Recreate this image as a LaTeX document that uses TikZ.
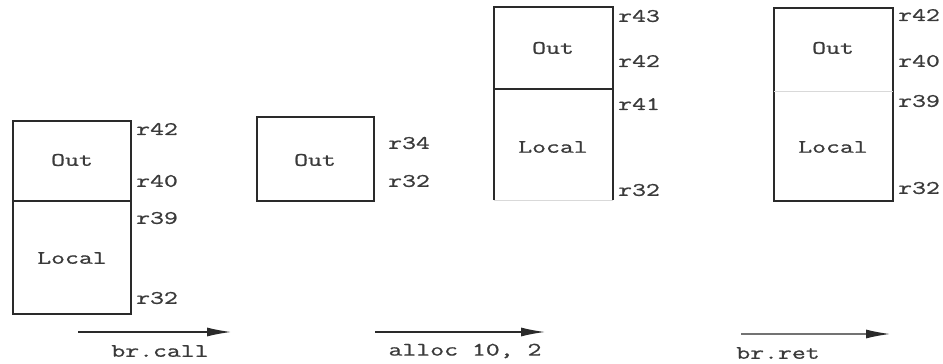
\documentclass[tikz,border=0pt]{standalone}
\usepackage{fontspec}
\newfontfamily\courish{Latin Modern Mono}[FakeBold=0.8]
\usetikzlibrary{arrows.meta}
\definecolor{ln}{HTML}{2A2A2A}
\definecolor{tx}{HTML}{3A3A3A}
\tikzset{
  box/.style={draw=ln, line width=1.6pt},
  faint/.style={draw=black!15, line width=0.8pt},
  lbl/.style={text=tx, font=\courish\fontsize{19}{19}\selectfont, inner sep=0pt},
  reg/.style={lbl, anchor=west},
  arr/.style={draw=ln, line width=1.2pt, -{Latex[length=24pt,width=9pt,color=ln]}},
}
\newcommand{\wideT}[1]{\scalebox{1.42}[1]{#1}}
\begin{document}
\begin{tikzpicture}[x=1pt,y=-1pt]
\useasboundingbox (0,0) rectangle (943,364);
% ---- box 1
\draw[box] (13,121) rectangle (131,314);
\draw[box] (13,201) -- (131,201);
\node[lbl] (o1) at (72,160) {\wideT{Out}};
\node[lbl] (l1) at (72,258) {\wideT{Local}};
\node[reg] (a1) at (136,129) {\wideT{r42}};
\node[reg] (b1) at (136,181) {\wideT{r40}};
\node[reg] (c1) at (136,218) {\wideT{r39}};
\node[reg] (d1) at (136,298) {\wideT{r32}};
% ---- box 2
\draw[box] (257,117) rectangle (374,201);
\node[lbl] (o2) at (315,160) {\wideT{Out}};
\node[reg] (a2) at (388,143) {\wideT{r34}};
\node[reg] (b2) at (388,181) {\wideT{r32}};
% ---- box 3
\draw[box] (494,200) -- (494,7) -- (613,7) -- (613,200);
\draw[faint] (494,200) -- (613,200);
\draw[box] (494,89) -- (613,89);
\node[lbl] (o3) at (553,48) {\wideT{Out}};
\node[lbl] (l3) at (553,147) {\wideT{Local}};
\node[reg] (a3) at (618,16) {\wideT{r43}};
\node[reg] (b3) at (618,61) {\wideT{r42}};
\node[reg] (c3) at (618,104) {\wideT{r41}};
\node[reg] (d3) at (618,190) {\wideT{r32}};
% ---- box 4
\draw[box] (774,8) rectangle (893,201);
\draw[faint] (774,91) -- (893,91);
\node[lbl] (o4) at (833,48) {\wideT{Out}};
\node[lbl] (l4) at (833,147) {\wideT{Local}};
\node[reg] (a4) at (898,15) {\wideT{r42}};
\node[reg] (b4) at (898,61) {\wideT{r40}};
\node[reg] (c4) at (898,101) {\wideT{r39}};
\node[reg] (d4) at (898,188) {\wideT{r32}};
% ---- arrows
\coordinate (s1) at (78,332); \coordinate (e1) at (231,332);
\coordinate (s2) at (375,332); \coordinate (e2) at (545,332);
\coordinate (s3) at (741,334); \coordinate (e3) at (890,334);
\draw[arr] (s1) -- (e1);
\draw[arr] (s2) -- (e2);
\draw[arr, draw=black!55] (s3) -- (e3);
\node[lbl] (t1) at (160,351) {\wideT{br.call}};
\node[lbl] (t2) at (465,351) {\wideT{alloc 10, 2}};
\node[lbl] (t3) at (778,353) {\wideT{br.ret}};
\end{tikzpicture}
\end{document}
